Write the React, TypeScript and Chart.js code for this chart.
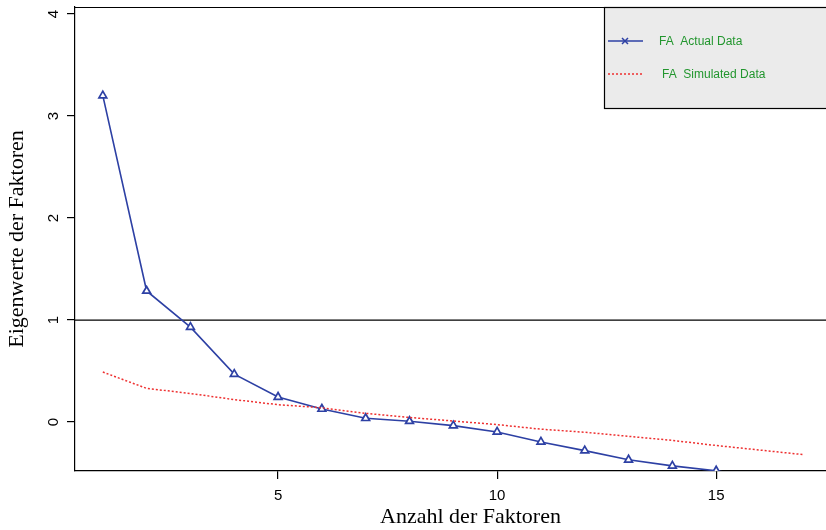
import React, { useEffect, useRef } from "react";
import { Chart, registerables } from "chart.js";

Chart.register(...registerables);

// Parallel analysis scree plot: observed vs. simulated eigenvalues
const factors = [1, 2, 3, 4, 5, 6, 7, 8, 9, 10, 11, 12, 13, 14, 15, 16, 17];
const actualEigen = [
  3.2, 1.285, 0.93, 0.47, 0.245, 0.128, 0.037, 0.008, -0.035, -0.097, -0.195,
  -0.28, -0.37, -0.43, -0.478, -0.55, -0.62,
];
const simulatedEigen = [
  0.49, 0.33, 0.28, 0.22, 0.17, 0.14, 0.085, 0.045, 0.01, -0.025, -0.07, -0.1,
  -0.14, -0.18, -0.23, -0.275, -0.32,
];
const xTickValues = [5, 10, 15];
const yTickValues = [0, 1, 2, 3, 4];
const kaiserLine = 1;
const legendLabels = ["FA  Actual Data", "FA  Simulated Data"];

const BLUE = "#2d40a4";
const RED = "#ee3030";
const GREEN = "#22962e";

const CANVAS_W = 880;
const CANVAS_H = 530;

const framePlugin = {
  id: "frame",
  beforeDatasetsDraw(chart: any) {
    const { ctx, chartArea } = chart;
    const y = chart.scales.y.getPixelForValue(kaiserLine);
    ctx.save();
    ctx.strokeStyle = "#000";
    ctx.lineWidth = 1.2;
    ctx.beginPath();
    ctx.moveTo(chartArea.left, y);
    ctx.lineTo(chartArea.right, y);
    ctx.stroke();
    ctx.restore();
  },
  afterDatasetsDraw(chart: any) {
    const { ctx, chartArea } = chart;
    ctx.save();
    // top and right edges of the plot box
    ctx.strokeStyle = "#000";
    ctx.lineWidth = 1.2;
    ctx.beginPath();
    ctx.moveTo(chartArea.left, chartArea.top + 0.5);
    ctx.lineTo(chartArea.right, chartArea.top + 0.5);
    ctx.lineTo(chartArea.right, chartArea.bottom);
    ctx.stroke();

    // legend box
    const lx = 604;
    const ly = chartArea.top;
    const lw = chartArea.right - lx;
    const lh = 101;
    ctx.fillStyle = "#ebebeb";
    ctx.fillRect(lx, ly, lw, lh);
    ctx.strokeStyle = "#000";
    ctx.lineWidth = 1.2;
    ctx.strokeRect(lx + 0.5, ly + 0.5, lw, lh);

    // actual data key
    ctx.strokeStyle = BLUE;
    ctx.lineWidth = 1.5;
    ctx.beginPath();
    ctx.moveTo(608, 41);
    ctx.lineTo(643, 41);
    ctx.stroke();
    ctx.beginPath();
    ctx.moveTo(622, 38);
    ctx.lineTo(628, 44);
    ctx.moveTo(628, 38);
    ctx.lineTo(622, 44);
    ctx.stroke();

    // simulated data key
    ctx.strokeStyle = RED;
    ctx.setLineDash([2, 2]);
    ctx.beginPath();
    ctx.moveTo(608, 74);
    ctx.lineTo(643, 74);
    ctx.stroke();
    ctx.setLineDash([]);

    ctx.fillStyle = GREEN;
    ctx.font = "12px 'Liberation Sans', Arial, sans-serif";
    ctx.textBaseline = "middle";
    ctx.textAlign = "left";
    ctx.fillText(legendLabels[0], 659, 42);
    ctx.fillText(legendLabels[1], 662, 75);
    ctx.restore();
  },
};

export default function App() {
  const canvasRef = useRef<HTMLCanvasElement | null>(null);

  useEffect(() => {
    const canvas = canvasRef.current;
    if (!canvas) return;

    const actualPoints = factors.map((f, i) => ({ x: f, y: actualEigen[i] }));
    const simulatedPoints = factors.map((f, i) => ({ x: f, y: simulatedEigen[i] }));

    const tickFont = { family: "'Liberation Sans', Arial, sans-serif", size: 15 };
    const titleFont = { family: "'Liberation Serif', 'Times New Roman', serif", size: 22 };

    const chart = new Chart(canvas, {
      type: "line",
      data: {
        datasets: [
          {
            label: legendLabels[1],
            data: simulatedPoints,
            borderColor: RED,
            borderWidth: 1.5,
            borderDash: [2, 2],
            pointRadius: 0,
            tension: 0,
            fill: false,
          },
          {
            label: legendLabels[0],
            data: actualPoints,
            borderColor: BLUE,
            borderWidth: 1.6,
            pointStyle: "triangle",
            pointRadius: 4.5,
            pointBorderWidth: 1.7,
            pointBorderColor: BLUE,
            pointBackgroundColor: "#ffffff",
            tension: 0,
            fill: false,
          },
        ],
      },
      options: {
        responsive: false,
        animation: false,
        events: [],
        layout: { padding: { top: 7, right: CANVAS_W - 866, bottom: 0, left: 0 } },
        plugins: {
          legend: { display: false },
          tooltip: { enabled: false },
        },
        scales: {
          x: {
            type: "linear",
            min: 0.365,
            max: 18.42,
            afterFit: (s: any) => {
              s.height = 59;
              s.paddingLeft = 0;
              s.paddingRight = 0;
            },
            afterBuildTicks: (s: any) => {
              s.ticks = xTickValues.map((v) => ({ value: v }));
            },
            grid: {
              drawOnChartArea: false,
              tickLength: 8,
              color: "#000",
              lineWidth: 1.2,
            },
            border: { display: true, color: "#000", width: 1.2 },
            ticks: {
              font: tickFont,
              color: "#000",
              padding: 8,
              maxRotation: 0,
              autoSkip: false,
              callback: (v: any) => String(v),
            },
            title: {
              display: true,
              text: "Anzahl der Faktoren",
              font: titleFont,
              color: "#000",
              padding: { top: 0, bottom: 0 },
            },
          },
          y: {
            type: "linear",
            min: -0.48,
            max: 4.069,
            afterFit: (s: any) => {
              s.width = 75;
              s.paddingTop = 0;
              s.paddingBottom = 0;
            },
            afterBuildTicks: (s: any) => {
              s.ticks = yTickValues.map((v) => ({ value: v }));
            },
            grid: {
              drawOnChartArea: false,
              tickLength: 8,
              color: "#000",
              lineWidth: 1.2,
            },
            border: { display: true, color: "#000", width: 1.2 },
            ticks: {
              font: tickFont,
              color: "#000",
              padding: 9,
              minRotation: 90,
              maxRotation: 90,
              crossAlign: "center",
              autoSkip: false,
              callback: (v: any) => String(v),
            },
            title: {
              display: true,
              text: "Eigenwerte der Faktoren",
              font: titleFont,
              color: "#000",
              padding: { top: 4, bottom: 0 },
            },
          },
        },
      },
      plugins: [framePlugin],
    } as any);

    return () => chart.destroy();
  }, []);

  return (
    <canvas
      ref={canvasRef}
      width={CANVAS_W}
      height={CANVAS_H}
      style={{ position: "fixed", left: 0, top: 0, width: CANVAS_W, height: CANVAS_H }}
    />
  );
}
